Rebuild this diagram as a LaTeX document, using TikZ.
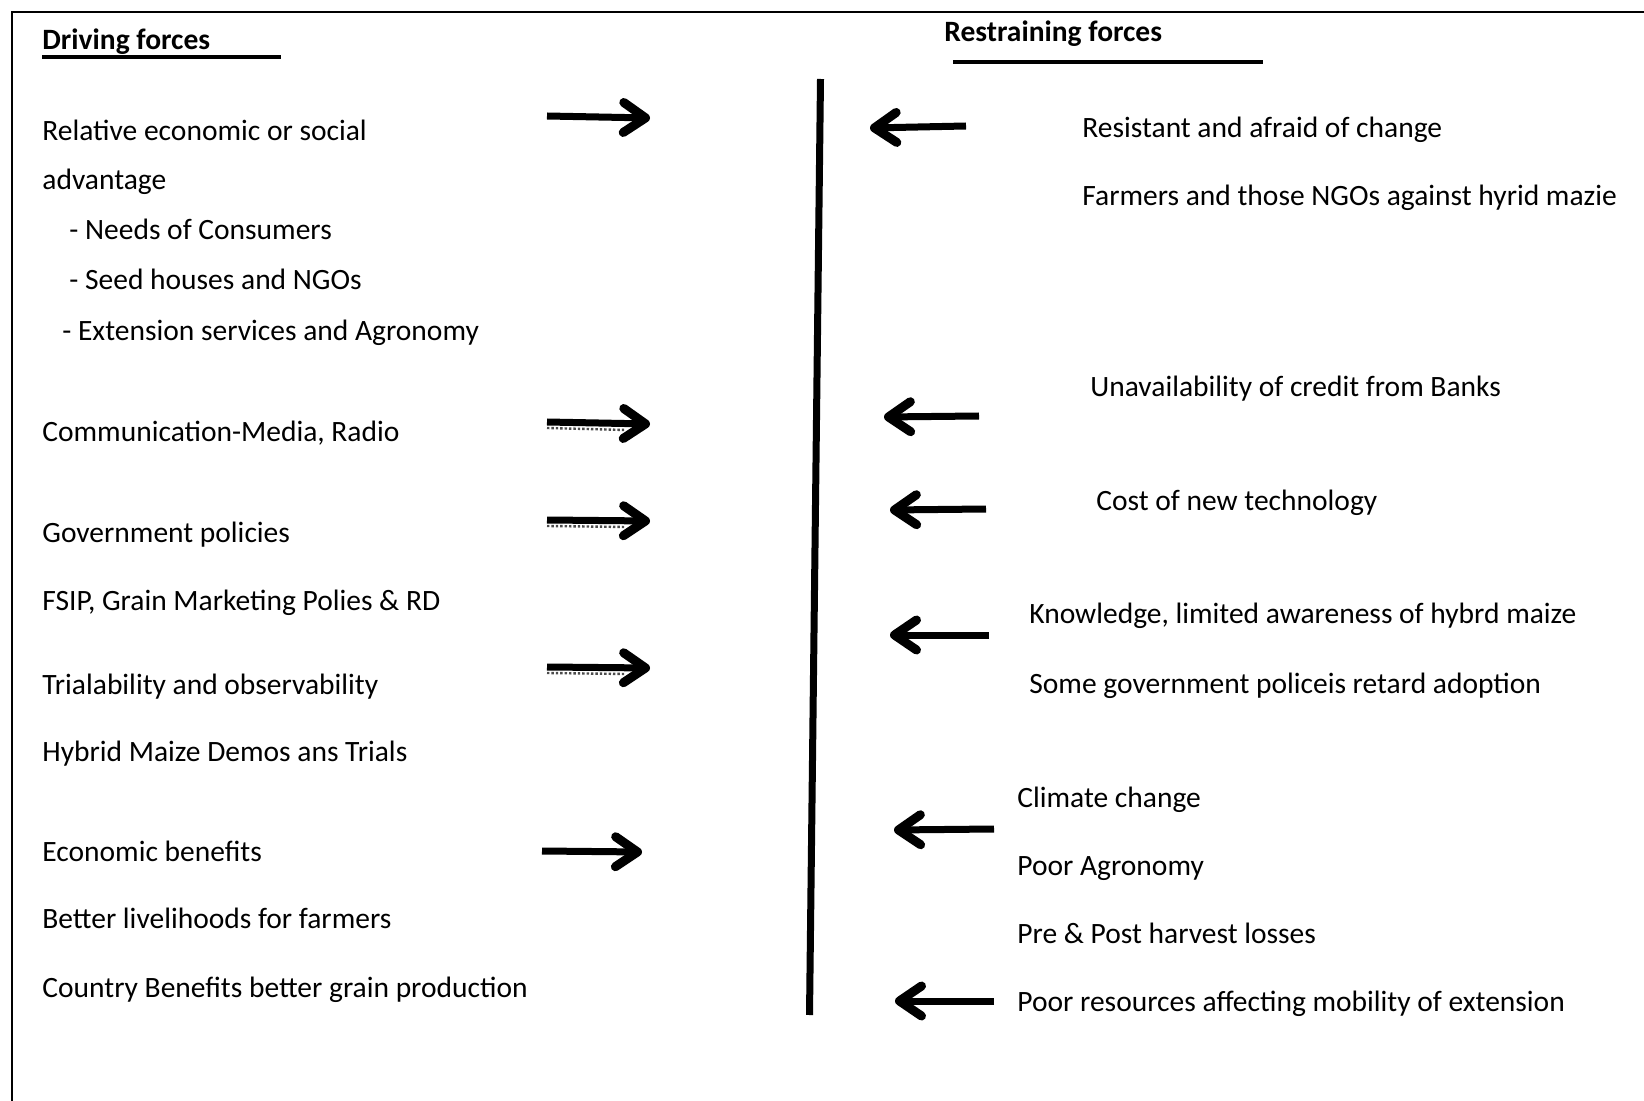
\documentclass[tikz,border=0pt]{standalone}
\usepackage{fontspec}
\setmainfont{Carlito}
\usetikzlibrary{arrows.meta}

\tikzset{
  item/.style={anchor=base west,inner sep=0pt,font=\fontsize{14.75}{17.5}\selectfont},
  head/.style={item,font=\fontsize{14.75}{17.5}\selectfont\bfseries},
  force/.style={draw=black,line width=3.5pt,-{Straight Barb[length=11pt,width=15pt,line width=4.5pt,round]}},
  halftone/.style={draw=black!70,line width=1.2pt,densely dotted},
}

\begin{document}
\begin{tikzpicture}[x=0.5pt,y=-0.5pt]
\useasboundingbox (0,0) rectangle (1644,1101);
\draw[line width=1.2pt] (12,1101) -- (12,12) -- (1644,12);

\node[head] (dh) at (42,50) {Driving forces};
\node[head] (rh) at (944,42) {Restraining forces};
\draw[line width=1.8pt] (42,57) -- (281,57);
\draw[line width=1.8pt] (953,62) -- (1263,62);

\coordinate (top) at (820.5,79);
\coordinate (bot) at (809.5,1015);
\draw[line width=3.5pt] (top) -- (bot);

\node[item] (d0) at (42,141) {Relative economic or social};
\node[item] (d1) at (42,190) {advantage};
\node[item] (d2) at (69,240) {- Needs of Consumers};
\node[item] (d3) at (69,290) {- Seed houses and NGOs};
\node[item] (d4) at (62,341) {- Extension services and Agronomy};
\node[item] (d5) at (42,442) {Communication-Media, Radio};
\node[item] (d6) at (42,542) {Government policies};
\node[item] (d7) at (42,610) {FSIP, Grain Marketing Polies \& RD};
\node[item] (d8) at (42,694) {Trialability and observability};
\node[item] (d9) at (42,761) {Hybrid Maize Demos ans Trials};
\node[item] (d10) at (42,861) {Economic benefits};
\node[item] (d11) at (42,928) {Better livelihoods for farmers};
\node[item] (d12) at (42,997) {Country Benefits better grain production};

\node[item] (r0) at (1082,138) {Resistant and afraid of change};
\node[item] (r1) at (1082,206) {Farmers and those NGOs against hyrid mazie};
\node[item] (r2) at (1090,397) {Unavailability of credit from Banks};
\node[item] (r3) at (1096,510) {Cost of new technology};
\node[item] (r4) at (1029,623) {Knowledge, limited awareness of hybrd maize};
\node[item] (r5) at (1029,693) {Some government policeis retard adoption};
\node[item] (r6) at (1017,807) {Climate change};
\node[item] (r7) at (1017,875) {Poor Agronomy};
\node[item] (r8) at (1017,943) {Pre \& Post harvest losses};
\node[item] (r9) at (1017,1011) {Poor resources affecting mobility of extension};

% driving arrows
\coordinate (a0) at (547,116);  \coordinate (b0) at (650,118);
\coordinate (a1) at (547,422);  \coordinate (b1) at (650,424);
\coordinate (a2) at (547,520);  \coordinate (b2) at (650,521);
\coordinate (a3) at (547,667);  \coordinate (b3) at (650,668);
\coordinate (a4) at (542,851);  \coordinate (b4) at (642,852);

\draw[halftone] ([yshift=-3pt]a1) -- ([yshift=-3pt,xshift=-12pt]b1);
\draw[halftone] ([yshift=-3pt]a2) -- ([yshift=-3pt,xshift=-12pt]b2);
\draw[halftone] ([yshift=-3pt]a3) -- ([yshift=-3pt,xshift=-12pt]b3);

\draw[force] (a0) -- (b0);
\draw[force] (a1) -- (b1);
\draw[force] (a2) -- (b2);
\draw[force] (a3) -- (b3);
\draw[force] (a4) -- (b4);

% restraining arrows
\coordinate (c0) at (966,126);  \coordinate (e0) at (870,128);
\coordinate (c1) at (979,416);  \coordinate (e1) at (884,417);
\coordinate (c2) at (986,509);  \coordinate (e2) at (890,510);
\coordinate (c3) at (989,635);  \coordinate (e3) at (890,635);
\coordinate (c4) at (994,829);  \coordinate (e4) at (894,830);
\coordinate (c5) at (994,1001); \coordinate (e5) at (895,1001);

\draw[force] (c0) -- (e0);
\draw[force] (c1) -- (e1);
\draw[force] (c2) -- (e2);
\draw[force] (c3) -- (e3);
\draw[force] (c4) -- (e4);
\draw[force] (c5) -- (e5);
\end{tikzpicture}
\end{document}
